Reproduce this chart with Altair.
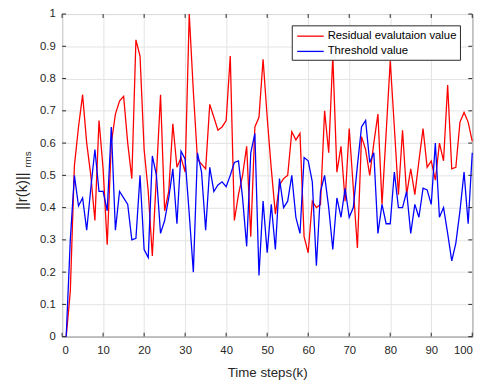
import altair as alt
import pandas as pd

# ---------------- data ----------------
steps = list(range(1, 101))

residual = [
    0.00, 0.14, 0.53, 0.65, 0.75, 0.60, 0.50, 0.36, 0.67, 0.52,
    0.285, 0.60, 0.69, 0.73, 0.745, 0.60, 0.49, 0.92, 0.87, 0.58,
    0.45, 0.25, 0.50, 0.75, 0.39, 0.45, 0.66, 0.525, 0.555, 0.51,
    1.00, 0.76, 0.55, 0.535, 0.52, 0.72, 0.68, 0.64, 0.65, 0.67,
    0.87, 0.36, 0.44, 0.50, 0.59, 0.31, 0.65, 0.68, 0.86, 0.68,
    0.52, 0.38, 0.47, 0.49, 0.50, 0.635, 0.61, 0.63, 0.31, 0.26,
    0.42, 0.40, 0.41, 0.70, 0.57, 0.87, 0.51, 0.59, 0.42, 0.645,
    0.46, 0.275, 0.62, 0.58, 0.50, 0.60, 0.69, 0.41, 0.63, 0.855,
    0.65, 0.44, 0.64, 0.44, 0.52, 0.44, 0.545, 0.645, 0.525, 0.545,
    0.485, 0.60, 0.545, 0.78, 0.52, 0.525, 0.665, 0.695, 0.665, 0.605,
]

threshold = [
    0.00, 0.30, 0.50, 0.405, 0.43, 0.33, 0.46, 0.58, 0.45, 0.45,
    0.39, 0.65, 0.33, 0.45, 0.43, 0.41, 0.30, 0.305, 0.50, 0.27,
    0.245, 0.56, 0.50, 0.32, 0.36, 0.43, 0.52, 0.35, 0.575, 0.55,
    0.38, 0.20, 0.57, 0.51, 0.33, 0.525, 0.45, 0.47, 0.48, 0.465,
    0.50, 0.54, 0.545, 0.43, 0.28, 0.57, 0.63, 0.19, 0.42, 0.26,
    0.41, 0.27, 0.49, 0.40, 0.42, 0.50, 0.37, 0.32, 0.555, 0.545,
    0.48, 0.22, 0.45, 0.50, 0.40, 0.27, 0.43, 0.37, 0.46, 0.37,
    0.40, 0.53, 0.65, 0.67, 0.54, 0.57, 0.32, 0.41, 0.35, 0.35,
    0.51, 0.40, 0.40, 0.45, 0.32, 0.41, 0.37, 0.46, 0.455, 0.41,
    0.60, 0.37, 0.40, 0.32, 0.235, 0.29, 0.39, 0.51, 0.35, 0.57,
]

series_names = ["Residual evalutaion value", "Threshold value"]
series_colors = ["#ff0000", "#0000ff"]
x_ticks = list(range(0, 101, 10))
y_ticks = [round(i * 0.1, 1) for i in range(11)]
x_title = "Time steps(k)"
y_title_main = "||r(k)||"
y_title_sub = "rms"

# ---------------- build ----------------
df = pd.DataFrame({
    "k": steps * 2,
    "value": residual + threshold,
    "series": [series_names[0]] * len(steps) + [series_names[1]] * len(steps),
})

W, H = 417, 328
FONT = "Liberation Sans"
DARK = "#262626"

xs = alt.Scale(domain=[0, 100], nice=False, zero=False)
ys = alt.Scale(domain=[0, 1], nice=False)
x_axis = alt.Axis(values=x_ticks, title=x_title, labelPadding=8,
                  titlePadding=10, grid=True)
y_axis = alt.Axis(values=y_ticks, format="~g", title=None,
                  labelPadding=7, grid=True)

lines = alt.Chart(df).mark_line(strokeWidth=1.3).encode(
    x=alt.X("k:Q", scale=xs, axis=x_axis),
    y=alt.Y("value:Q", scale=ys, axis=y_axis),
    color=alt.Color("series:N",
                    scale=alt.Scale(domain=series_names, range=series_colors),
                    legend=None),
)

xt = pd.DataFrame({"t": x_ticks})
yt = pd.DataFrame({"t": y_ticks})
tick_style = dict(color=DARK, strokeWidth=1)
xtick_b = alt.Chart(xt).mark_rule(**tick_style).encode(
    x=alt.X("t:Q", scale=xs, axis=x_axis), y=alt.value(H), y2=alt.value(H - 4))
xtick_t = alt.Chart(xt).mark_rule(**tick_style).encode(
    x=alt.X("t:Q", scale=xs, axis=x_axis), y=alt.value(0), y2=alt.value(4))
ytick_l = alt.Chart(yt).mark_rule(**tick_style).encode(
    y=alt.Y("t:Q", scale=ys, axis=y_axis), x=alt.value(0), x2=alt.value(4))
ytick_r = alt.Chart(yt).mark_rule(**tick_style).encode(
    y=alt.Y("t:Q", scale=ys, axis=y_axis), x=alt.value(W), x2=alt.value(W - 4))

one = pd.DataFrame({"a": [0]})
legend_box = alt.Chart(one).mark_rect(fill="white", stroke=DARK, strokeWidth=1).encode(
    x=alt.value(234), x2=alt.value(405), y=alt.value(12), y2=alt.value(47))

legend_layers = [legend_box]
row_y = [22.5, 38]
for name, col, yy in zip(series_names, series_colors, row_y):
    legend_layers.append(
        alt.Chart(one).mark_rule(color=col, strokeWidth=1.3).encode(
            x=alt.value(239), x2=alt.value(266), y=alt.value(yy)))
    legend_layers.append(
        alt.Chart(pd.DataFrame({"t": [name]})).mark_text(
            align="left", baseline="middle", font=FONT, fontSize=11.5, color="black"
        ).encode(text="t:N", x=alt.value(270), y=alt.value(yy)))

ytitle = alt.Chart(pd.DataFrame({"t": [y_title_main]})).mark_text(
    angle=270, align="center", baseline="middle", font=FONT, fontSize=15, color=DARK
).encode(text="t:N", x=alt.value(-41), y=alt.value(180))
ytitle_sub = alt.Chart(pd.DataFrame({"t": [y_title_sub]})).mark_text(
    angle=270, align="center", baseline="middle", font=FONT, fontSize=10, color=DARK
).encode(text="t:N", x=alt.value(-35), y=alt.value(148))

chart = alt.layer(
    lines, xtick_b, xtick_t, ytick_l, ytick_r, *legend_layers, ytitle, ytitle_sub
).properties(
    width=W, height=H,
    autosize=alt.AutoSizeParams(type="none"),
    padding={"left": 55, "top": 3, "right": 16, "bottom": 45},
    background="white",
).configure_view(
    stroke=DARK, strokeWidth=1
).configure_axis(
    domain=False, ticks=False,
    labelFont=FONT, labelFontSize=11.5, labelColor=DARK,
    titleFont=FONT, titleFontSize=13.5, titleColor=DARK, titleFontWeight="normal",
    gridColor="#e3e3e3", gridWidth=1,
)

chart.save("out.html", embed_options={"renderer": "svg", "actions": False})
